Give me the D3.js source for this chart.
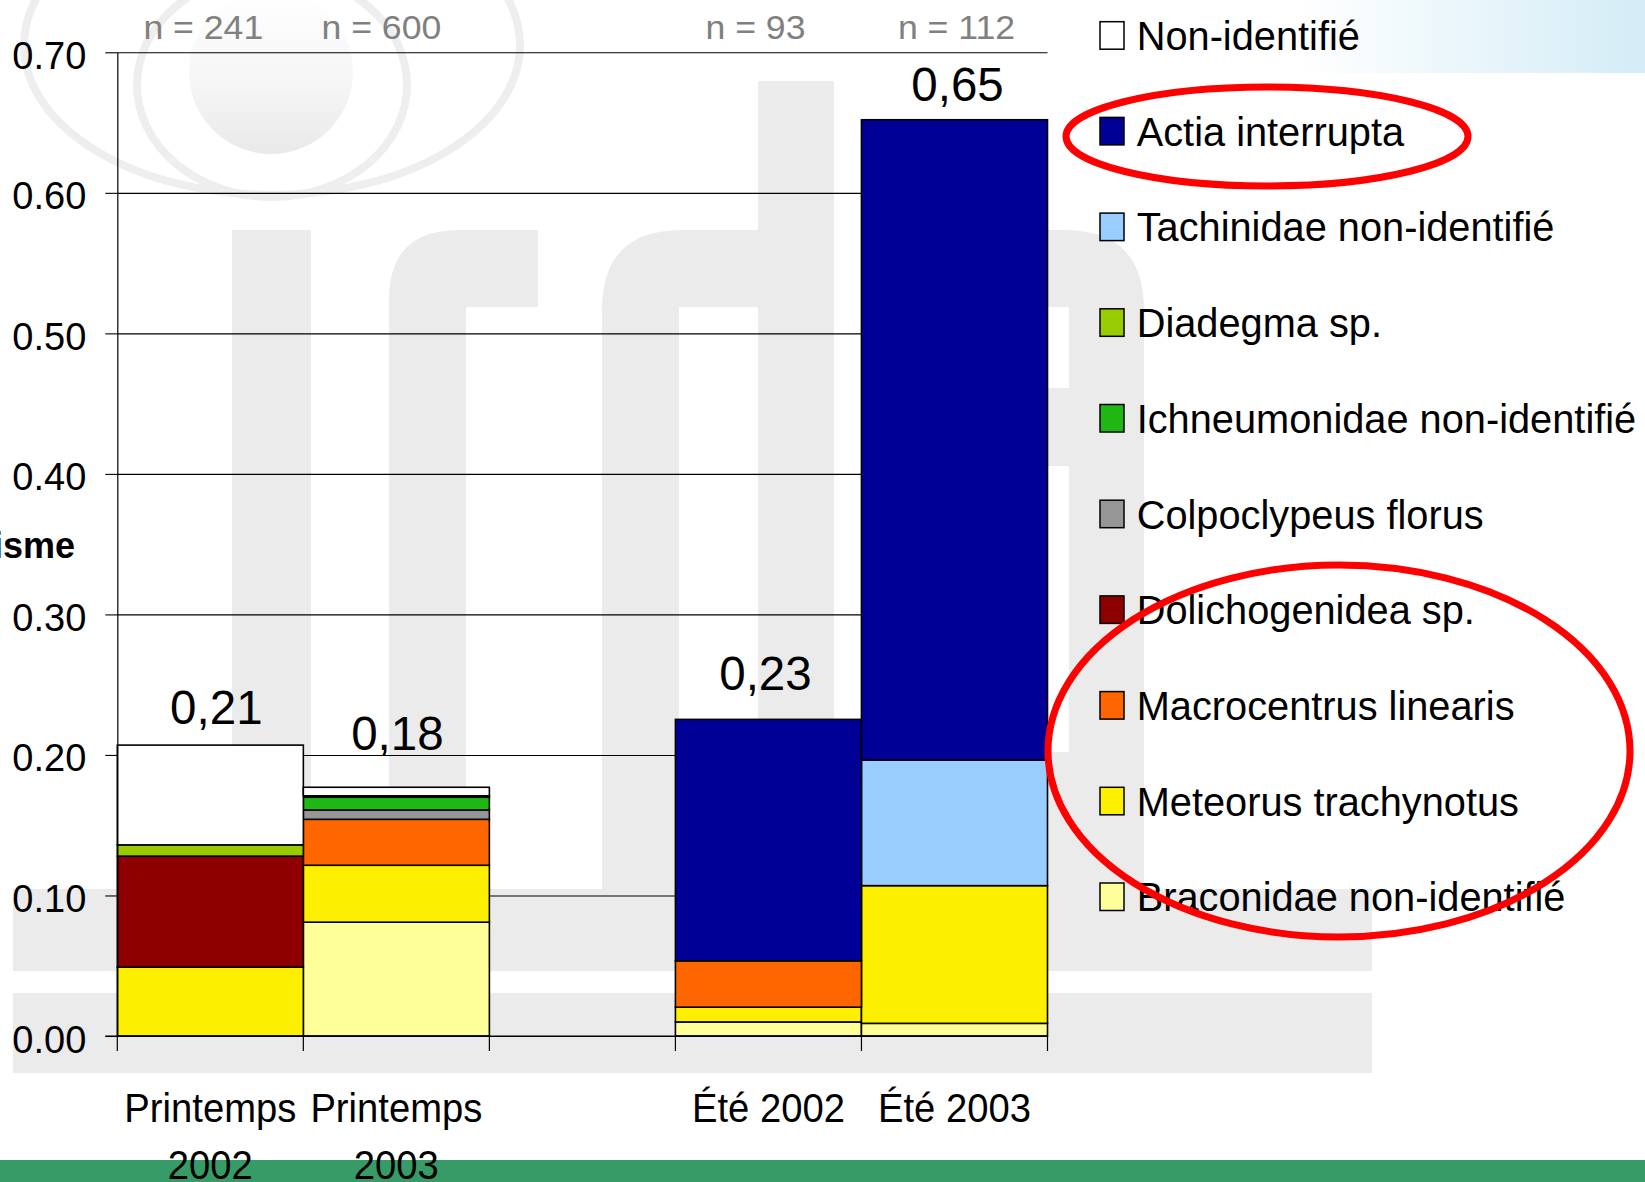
<!DOCTYPE html>
<html>
<head>
<meta charset="utf-8">
<script src="https://cdn.jsdelivr.net/npm/d3@7"></script>
<style>
  html, body { margin: 0; padding: 0; background: #fff; overflow: hidden; }
  svg { display: block; font-family: "Liberation Sans", Arial, sans-serif; }
</style>
</head>
<body>
<div id="chart"></div>
<script>
// 1) données
const categories = ["P2002", "P2003", "vide", "E2002", "E2003"];
const xLabels = [["Printemps", "2002"], ["Printemps", "2003"], [], ["Été 2002"], ["Été 2003"]];
const effectifs = [241, 600, 93, 112];

// ordre de la légende (haut -> bas)
const species = [
  "Non-identifié", "Actia interrupta", "Tachinidae non-identifié", "Diadegma sp.",
  "Ichneumonidae non-identifié", "Colpoclypeus florus", "Dolichogenidea sp.",
  "Macrocentrus linearis", "Meteorus trachynotus", "Braconidae non-identifié"
];
const colors = [
  "#ffffff", "#000096", "#99ccff", "#99cc00", "#1fb714",
  "#969696", "#8e0000", "#ff6600", "#fcf000", "#ffff99"
];

// taux de parasitisme par espèce, même ordre que species
const printemps2002 = [0.071, 0, 0, 0.008, 0, 0, 0.079, 0, 0.049, 0];
const printemps2003 = [0.0061, 0, 0, 0.001, 0.009, 0.0067, 0, 0.0327, 0.0405, 0.081];
const ete2002 = [0, 0.1718, 0, 0, 0, 0, 0, 0.033, 0.0105, 0.010];
const ete2003 = [0, 0.4556, 0.0894, 0, 0, 0, 0, 0, 0.098, 0.009];

const yTicks = [0, 0.1, 0.2, 0.3, 0.4, 0.5, 0.6, 0.7];

// 2) mise en page
const W = 1645, H = 1182;
const plotL = 117.3, plotR = 1047.5, plotT = 52.3, plotB = 1036;
const labelLift = [21, 37, 29, 19];   // hauteur des totaux au-dessus des barres
const labelShift = [6, 1, -3, 3];     // décalage horizontal des totaux
const nShift = [-7, -15, -13, 2];     // décalage des « n = » par rapport au centre

const svg = d3.select('#chart').append('svg')
  .attr('width', W).attr('height', H);

const defs = svg.append('defs');
const gDot = defs.append('linearGradient').attr('id', 'dot')
  .attr('x1', 0).attr('y1', 0).attr('x2', 0).attr('y2', 1);
gDot.append('stop').attr('offset', 0).attr('stop-color', '#ffffff');
gDot.append('stop').attr('offset', 0.55).attr('stop-color', '#f6f6f6');
gDot.append('stop').attr('offset', 1).attr('stop-color', '#e9e9e9');
const gSky = defs.append('linearGradient').attr('id', 'sky')
  .attr('x1', 0).attr('y1', 0).attr('x2', 1).attr('y2', 0);
gSky.append('stop').attr('offset', 0).attr('stop-color', '#ffffff');
gSky.append('stop').attr('offset', 1).attr('stop-color', '#d3ecf6');

// 3) fond (filigrane du logo)
const bg = svg.append('g').attr('fill', '#ebebeb');
bg.append('rect').attr('x', 1300).attr('y', 0).attr('width', W - 1300).attr('height', 73)
  .attr('fill', 'url(#sky)');
bg.append('ellipse').attr('cx', 272).attr('cy', 45).attr('rx', 248).attr('ry', 150)
  .attr('fill', 'none').attr('stroke', '#eeeeee').attr('stroke-width', 8);
bg.append('ellipse').attr('cx', 272).attr('cy', 85).attr('rx', 135).attr('ry', 112)
  .attr('fill', 'none').attr('stroke', '#eeeeee').attr('stroke-width', 8);
bg.append('circle').attr('cx', 271).attr('cy', 72).attr('r', 82).attr('fill', 'url(#dot)');
// i
bg.append('rect').attr('x', 232).attr('y', 230).attr('width', 79).attr('height', 660);
// r
bg.append('path').attr('d', 'M389,890 V300 Q389,230 459,230 H538 V307 H466 V890 Z');
// d
bg.append('rect').attr('x', 758).attr('y', 81).attr('width', 76).attr('height', 809);
bg.append('path').attr('d', 'M602,890 V310 Q602,230 682,230 H760 V890 Z');
bg.append('rect').attr('x', 679).attr('y', 307).attr('width', 79).attr('height', 505).attr('fill', '#fff');
// lettre suivante
bg.append('path').attr('d', 'M1048,230 H1064 Q1144,230 1144,310 V890 H1048 Z');
bg.append('rect').attr('x', 1048).attr('y', 307).attr('width', 21).attr('height', 81).attr('fill', '#fff');
bg.append('rect').attr('x', 1048).attr('y', 466).attr('width', 21).attr('height', 286).attr('fill', '#fff');
// bandes
bg.append('rect').attr('x', 13).attr('y', 889).attr('width', 1359).attr('height', 82);
bg.append('rect').attr('x', 13).attr('y', 993).attr('width', 1359).attr('height', 80);

// 4) échelles
const x = d3.scaleBand().domain(categories).range([plotL, plotR]).padding(0);
const y = d3.scaleLinear().domain([0, 0.7]).range([plotB, plotT]);

// grille
svg.append('g').attr('transform', `translate(${plotL},0)`)
  .call(d3.axisLeft(y).tickValues(yTicks).tickSize(-(plotR - plotL)).tickFormat(''))
  .call(g => g.select('.domain').remove())
  .call(g => g.selectAll('line').attr('stroke', '#000').attr('stroke-width', 1.1));

// 5) barres empilées
const keys = species.slice().reverse();
const seriesVals = { P2002: printemps2002, P2003: printemps2003, E2002: ete2002, E2003: ete2003 };
const rows = categories.filter(c => seriesVals[c]).map(c => {
  const r = { cat: c };
  species.forEach((s, i) => r[s] = seriesVals[c][i]);
  return r;
});
const stack = d3.stack().keys(keys)(rows);
const colorOf = d3.scaleOrdinal().domain(species).range(colors);

svg.append('g').selectAll('g').data(stack).join('g')
  .attr('fill', d => colorOf(d.key))
  .selectAll('rect').data(d => d.filter(p => p[1] - p[0] > 0)).join('rect')
    .attr('x', d => x(d.data.cat))
    .attr('y', d => y(d[1]))
    .attr('width', x.bandwidth())
    .attr('height', d => y(d[0]) - y(d[1]))
    .attr('stroke', '#000').attr('stroke-width', 1.6);

// 6) axes
const yAxis = svg.append('g').attr('transform', `translate(${plotL},0)`)
  .call(d3.axisLeft(y).tickValues(yTicks).tickSize(12).tickSizeOuter(0).tickPadding(19)
    .tickFormat(d3.format('.2f')));
yAxis.select('.domain').attr('stroke', '#000').attr('stroke-width', 1.2);
yAxis.selectAll('line').attr('stroke', '#000').attr('stroke-width', 1.1);
yAxis.selectAll('text')
  .attr('font-size', 38).attr('fill', '#000')
  .attr('dy', null).attr('y', 16);

const bounds = categories.map(c => x(c)).concat([plotR]);
svg.append('g').selectAll('line').data(bounds).join('line')
  .attr('x1', d => d).attr('x2', d => d)
  .attr('y1', plotB).attr('y2', plotB + 15)
  .attr('stroke', '#000').attr('stroke-width', 1.2);
svg.append('line').attr('x1', plotL - 12).attr('x2', plotR).attr('y1', plotB).attr('y2', plotB)
  .attr('stroke', '#000').attr('stroke-width', 1.2);

// bande verte du bas
svg.append('rect').attr('x', 0).attr('y', 1160).attr('width', W).attr('height', H - 1160)
  .attr('fill', '#369b67');

function txt(sel, tx, ty, s, sx) {
  return sel.append('text')
    .attr('transform', `translate(${tx},${ty}) scale(${sx},1)`)
    .text(s);
}

// étiquettes de l'axe x (la 2e ligne est coupée par le bord, comme dans l'original)
const xl = svg.append('g').attr('font-size', 40).attr('text-anchor', 'middle').attr('fill', '#000');
categories.forEach((c, i) => {
  xLabels[i].forEach((line, j) => {
    txt(xl, x(c) + x.bandwidth() / 2, 1121.7 + j * 57.7, line, 0.955);
  });
});

// totaux et effectifs
const dataCats = rows.map(r => r.cat);
const totals = rows.map(r => d3.sum(species, s => r[s]));
const tl = svg.append('g').attr('font-size', 47.5).attr('text-anchor', 'middle').attr('fill', '#000');
dataCats.forEach((c, i) => {
  txt(tl, x(c) + x.bandwidth() / 2 + labelShift[i], y(totals[i]) - labelLift[i],
    totals[i].toFixed(2).replace('.', ','), 1);
});
const nl = svg.append('g').attr('font-size', 33).attr('text-anchor', 'middle').attr('fill', '#808080');
dataCats.forEach((c, i) => {
  txt(nl, x(c) + x.bandwidth() / 2 + nShift[i], 38.5, 'n = ' + effectifs[i], 1.08);
});

// titre de l'axe y (tronqué par le bord gauche dans l'original)
svg.append('text').attr('x', 75).attr('y', 558).attr('text-anchor', 'end')
  .attr('font-size', 36).attr('font-weight', 'bold').text('isme');

// 7) légende
const lg = svg.append('g');
species.forEach((s, i) => {
  const row = lg.append('g').attr('transform', `translate(1100,${21.7 + i * 95.7})`);
  row.append('rect').attr('width', 24).attr('height', 27.5)
    .attr('fill', colors[i]).attr('stroke', '#000').attr('stroke-width', 1.5);
  txt(row, 36.7, 28.3, s, 0.97).attr('font-size', 41).attr('fill', '#000');
});

// annotations rouges
svg.append('ellipse').attr('cx', 1267).attr('cy', 136.5).attr('rx', 201).attr('ry', 49.5)
  .attr('fill', 'none').attr('stroke', '#ff0000').attr('stroke-width', 7);
svg.append('ellipse').attr('cx', 1339).attr('cy', 751).attr('rx', 291).attr('ry', 186)
  .attr('fill', 'none').attr('stroke', '#ff0000').attr('stroke-width', 7);
</script>
</body>
</html>
